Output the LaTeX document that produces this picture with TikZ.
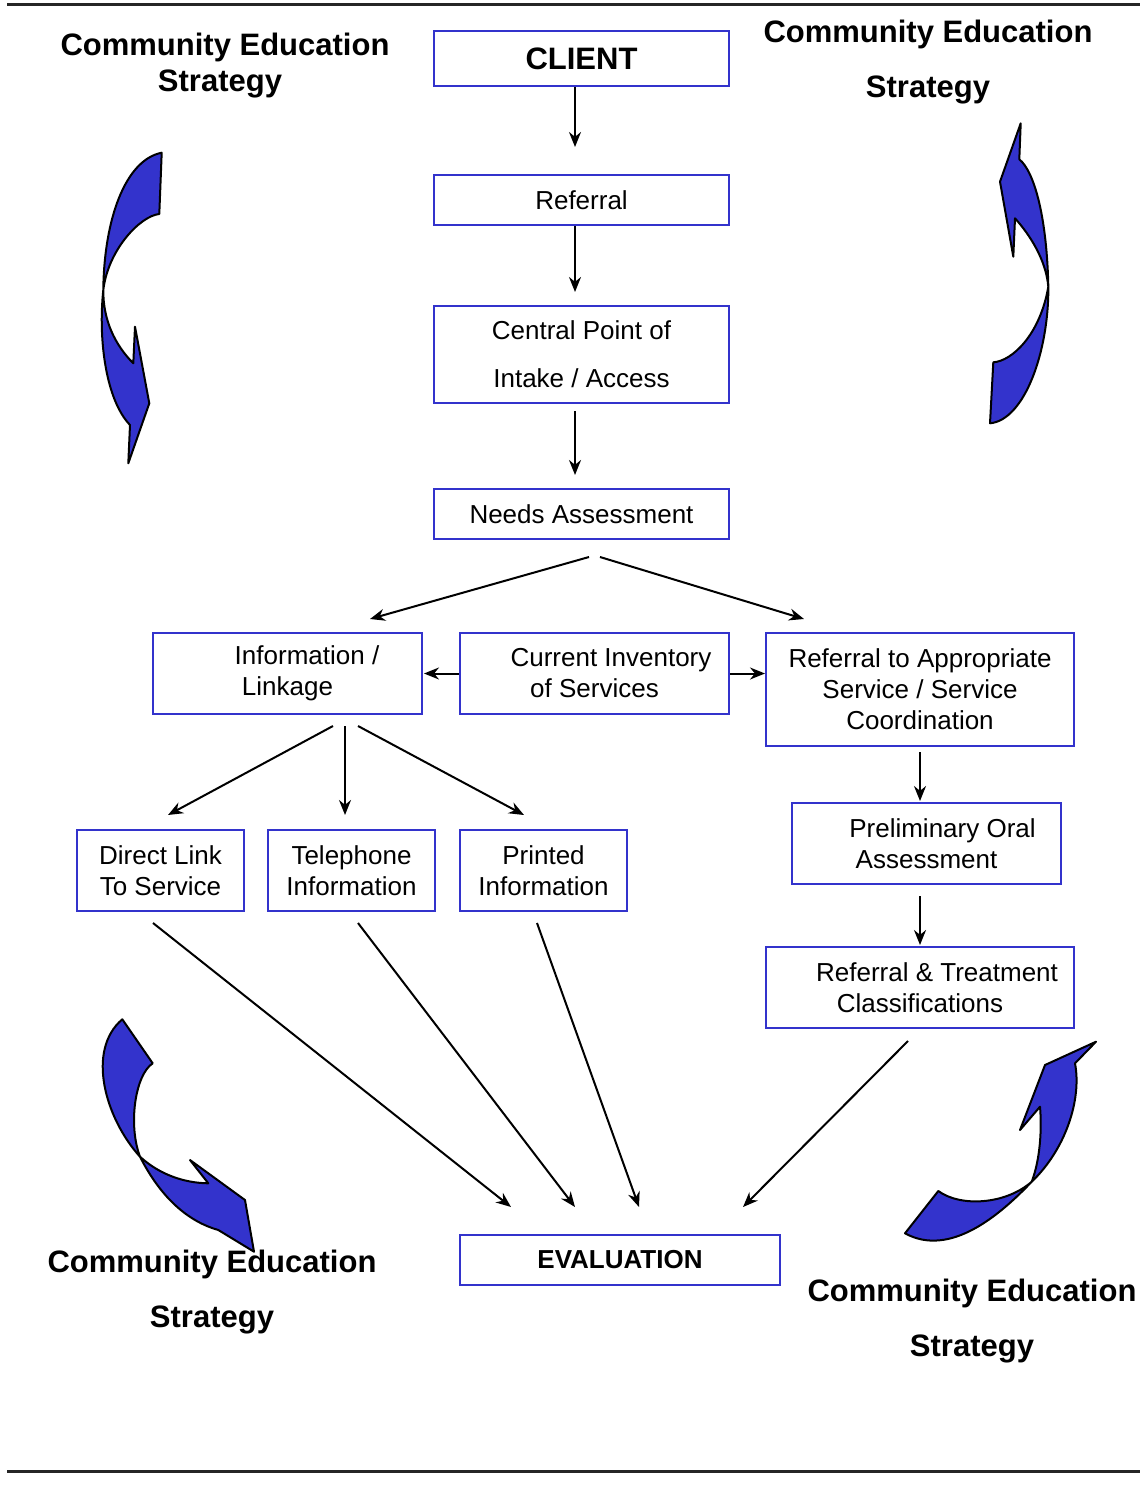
\documentclass[tikz,border=0pt]{standalone}
\usepackage{fontspec}
\setmainfont{Liberation Sans}
\usepackage{tikz}
\usetikzlibrary{positioning,calc,arrows.meta}
\usepackage{xcolor}
\definecolor{boxblue}{RGB}{51,51,204}
\definecolor{bentblue}{RGB}{51,51,204}

\begin{document}
\begin{tikzpicture}[x=1pt,y=-1pt,
  box/.style={draw=boxblue, line width=2pt, inner sep=0pt, align=center, font=\fontsize{26}{31}\selectfont},
  title/.style={align=center, inner sep=0pt, font=\bfseries\fontsize{31}{55}\selectfont},
  arr/.style={-{Stealth[length=15pt,width=12pt]}, line width=2pt},
  bent/.style={draw=black, fill=bentblue, line width=2pt, line join=round}]
\useasboundingbox (0,0) rectangle (1140,1506);

% Rules at top and bottom
\draw[line width=3pt, black!85] (7,5) -- (1140,5);
\draw[line width=3pt, black!85] (7,1471) -- (1140,1471);

% Main flow
\node[box, minimum width=295, minimum height=55, font=\bfseries\fontsize{31}{36}\selectfont] (client) at (581.5,58.5) {CLIENT};
\node[box, minimum width=295, minimum height=50] (referral) at (581.5,200) {Referral};
\node[box, minimum width=295, minimum height=97, font=\fontsize{26}{48}\selectfont] (central) at (581.5,354.5) {Central Point of\\Intake / Access};
\node[box, minimum width=295, minimum height=50] (needs) at (581.5,514) {Needs Assessment};

\draw[arr, shorten >=27pt] ([xshift=-6.5pt]client.south) -- ([xshift=-6.5pt]referral.north);
\draw[arr, shorten >=13pt] ([xshift=-6.5pt]referral.south) -- ([xshift=-6.5pt]central.north);
\draw[arr, shorten <=7pt, shorten >=13pt] ([xshift=-6.5pt]central.south) -- ([xshift=-6.5pt]needs.north);

% Middle row
\node[box, minimum width=269, minimum height=81] (info) at (287.5,673.5) {\hspace*{39pt}Information /\\Linkage};
\node[box, minimum width=269, minimum height=81] (inventory) at (594.5,673.5) {\hspace*{33pt}Current Inventory\\of Services};
\node[box, minimum width=308, minimum height=113] (refapp) at (920,689.5) {Referral to Appropriate\\Service / Service\\Coordination};

\draw[arr] ([xshift=7.5pt,yshift=-17pt]needs.south) -- ([xshift=82.5pt,yshift=13pt]info.north);
\draw[arr] ([xshift=18.5pt,yshift=-17pt]needs.south) -- ([xshift=-116pt,yshift=13pt]refapp.north);
\draw[arr, shorten >=1pt] (inventory.west) -- (info.east);
\draw[arr] (inventory.east) -- (inventory.east -| refapp.west);

% Information branch
\node[box, minimum width=167, minimum height=81] (direct) at (160.5,870.5) {Direct Link\\To Service};
\node[box, minimum width=167, minimum height=81] (phone) at (351.5,870.5) {Telephone\\Information};
\node[box, minimum width=167, minimum height=81] (printed) at (543.5,870.5) {Printed\\Information};

\draw[arr] ([xshift=45.5pt,yshift=-11pt]info.south) -- ([xshift=7.5pt,yshift=14pt]direct.north);
\draw[arr] ([xshift=57.5pt,yshift=-11pt]info.south) -- ([xshift=-6.5pt,yshift=14pt]phone.north);
\draw[arr] ([xshift=70.5pt,yshift=-11pt]info.south) -- ([xshift=-19.5pt,yshift=14pt]printed.north);

% Referral branch
\node[box, minimum width=269, minimum height=81] (prelim) at (926.5,843.5) {\hspace*{32pt}Preliminary Oral\\Assessment};
\node[box, minimum width=308, minimum height=81] (reftreat) at (920,987.5) {\hspace*{34pt}Referral \& Treatment\\Classifications};

\draw[arr, shorten <=5pt] (refapp.south) -- ([xshift=-6.5pt,yshift=1pt]prelim.north);
\draw[arr] ([xshift=-6.5pt,yshift=-11pt]prelim.south) -- ([yshift=1pt]reftreat.north);

% Evaluation
\node[box, minimum width=320, minimum height=50, font=\bfseries\fontsize{26}{31}\selectfont] (eval) at (620,1260) {EVALUATION};

\draw[arr] ([xshift=-7.5pt,yshift=-11pt]direct.south) -- ([xshift=-109pt,yshift=27pt]eval.north);
\draw[arr] ([xshift=6.5pt,yshift=-11pt]phone.south) -- ([xshift=-45pt,yshift=27pt]eval.north);
\draw[arr] ([xshift=-6.5pt,yshift=-11pt]printed.south) -- ([xshift=19pt,yshift=27pt]eval.north);
\draw[arr] ([xshift=-12pt,yshift=-12pt]reftreat.south) -- ([xshift=123pt,yshift=27pt]eval.north);

% Strategy labels
\node[title, font=\bfseries\fontsize{31}{36}\selectfont] (stratTL) at (225,66) {Community Education\\Strategy\hspace*{10pt}};
\node[title] (stratTR) at (928,62.5) {Community Education\\Strategy};
\node[title] (stratBL) at (212,1292.5) {Community Education\\Strategy};
\node[title] (stratBR) at (972,1321.5) {Community Education\\Strategy};

% Bent arrows
\draw[bent] (161.7,152.7) -- (159.3,214)
  .. controls (140,216) and (108,250) .. (103.3,290)
  .. controls (103,320) and (115,345) .. (133.3,363.3)
  -- (135,326.7) -- (149.3,403.3) -- (128.3,463.3) -- (130,425)
  .. controls (106,400) and (98,340) .. (103.3,290)
  .. controls (104,220) and (125,160) .. cycle;
\draw[bent] (1020.7,123.3) -- (1019.3,159.3)
  .. controls (1035,172) and (1047,220) .. (1048.3,286.7)
  .. controls (1049,350) and (1025,420) .. (990,423.3)
  -- (993.3,362.3)
  .. controls (1012,361) and (1040,335) .. (1048.3,286.7)
  .. controls (1046,260) and (1030,235) .. (1015,218.3)
  -- (1013.3,256.7) -- (1000,181.7) -- cycle;
\draw[bent] (122.3,1019.3) -- (152.7,1063.3)
  .. controls (135,1075) and (128,1125) .. (140,1156.7)
  .. controls (160,1175) and (185,1183) .. (208.3,1183.3)
  -- (190,1160) -- (245,1200) -- (254,1251.7) -- (218.3,1230)
  .. controls (190,1222) and (162,1200) .. (140,1156.7)
  .. controls (105,1118) and (86,1050) .. cycle;
\draw[bent] (1096,1041.7) -- (1075,1063.3)
  .. controls (1082,1100) and (1065,1150) .. (1031.7,1181.7)
  .. controls (1000,1215) and (950,1258) .. (905,1233.3)
  -- (938.3,1191)
  .. controls (960,1207) and (1005,1205) .. (1031.7,1181.7)
  .. controls (1040,1160) and (1042,1130) .. (1040,1106.7)
  -- (1020,1130) -- (1045,1065) -- cycle;
\end{tikzpicture}
\end{document}
